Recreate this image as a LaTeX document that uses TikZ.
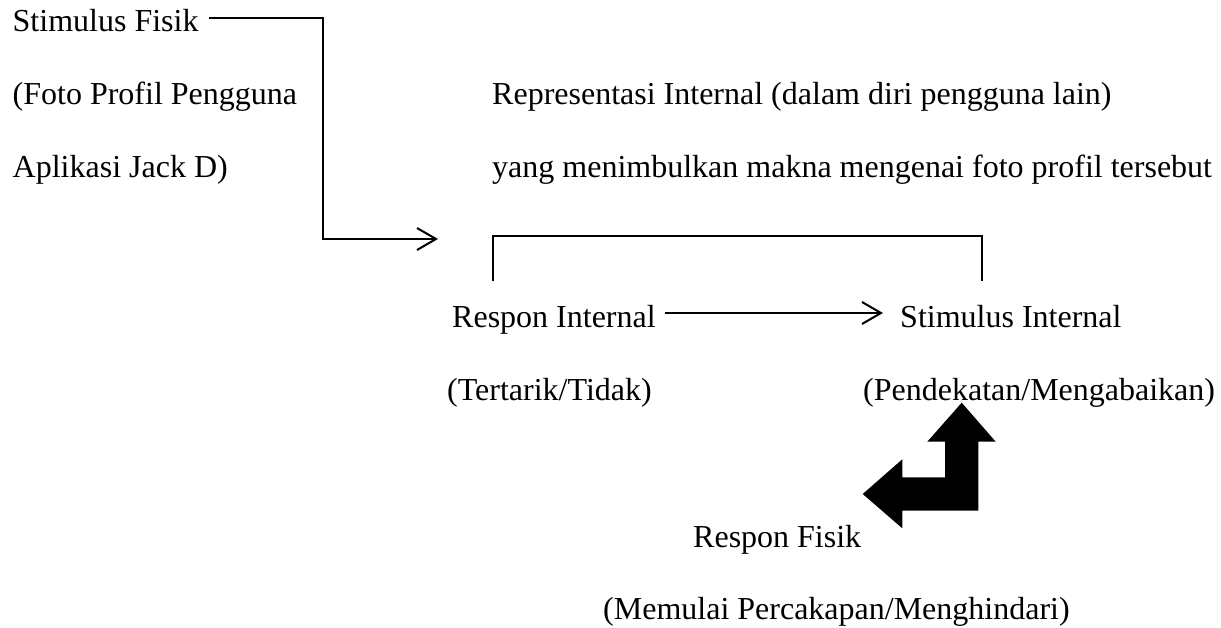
\documentclass[tikz,border=0pt]{standalone}
\usepackage{fontspec}
\setmainfont{Liberation Serif}
\usetikzlibrary{arrows.meta}
\tikzset{
  lbl/.style={inner sep=0pt, anchor=base west, font=\fontsize{32}{38}\selectfont},
  conn/.style={line width=2pt, line join=miter},
  openarrow/.style={-{Straight Barb[length=19pt, width=22pt, line width=2pt]}},
  blockarrow/.style={fill=black, draw=none}
}
\begin{document}
\begin{tikzpicture}[x=1pt, y=-1pt]
\useasboundingbox (0,0) rectangle (1221,628);
% texts
\node[lbl] (sf1) at (12.5,32) {Stimulus Fisik};
\node[lbl] (sf2) at (12.5,105) {(Foto Profil Pengguna};
\node[lbl] (sf3) at (12.5,178) {Aplikasi Jack D)};
\node[lbl] (ri1) at (492,105) {Representasi Internal (dalam diri pengguna lain)};
\node[lbl] (ri2) at (492,178) {yang menimbulkan makna mengenai foto profil tersebut};
\node[lbl] (rin) at (452,327) {Respon Internal};
\node[lbl] (rin2) at (447,400) {(Tertarik/Tidak)};
\node[lbl] (sin) at (900,327) {Stimulus Internal};
\node[lbl] (sin2) at (863,400) {(Pendekatan/Mengabaikan)};
\node[lbl] (rf) at (693,547) {Respon Fisik};
\node[lbl] (rf2) at (603,619) {(Memulai Percakapan/Menghindari)};
% connector from Stimulus Fisik
\coordinate (s1) at (209,18);
\coordinate (s2) at (438,239);
\draw[conn, openarrow] (s1) -- (323,18) -- (323,239) -- (s2);
% bracket
\coordinate (b1) at (493,281);
\coordinate (b2) at (982,281);
\draw[conn] (b1) -- (493,236) -- (982,236) -- (b2);
% arrow Respon Internal -> Stimulus Internal
\coordinate (r1) at (665,313);
\coordinate (r2) at (883,313);
\draw[conn, openarrow] (r1) -- (r2);
% block arrow
\fill[blockarrow] (961.7,402.7) -- (995.7,441.7) -- (978.3,441.7) -- (978.3,510.7)
  -- (902.3,510.7) -- (902.3,528.3) -- (862.7,494) -- (902.3,459.3) -- (902.3,477.3)
  -- (945,477.3) -- (945,441.7) -- (927.3,441.7) -- cycle;
\end{tikzpicture}
\end{document}
